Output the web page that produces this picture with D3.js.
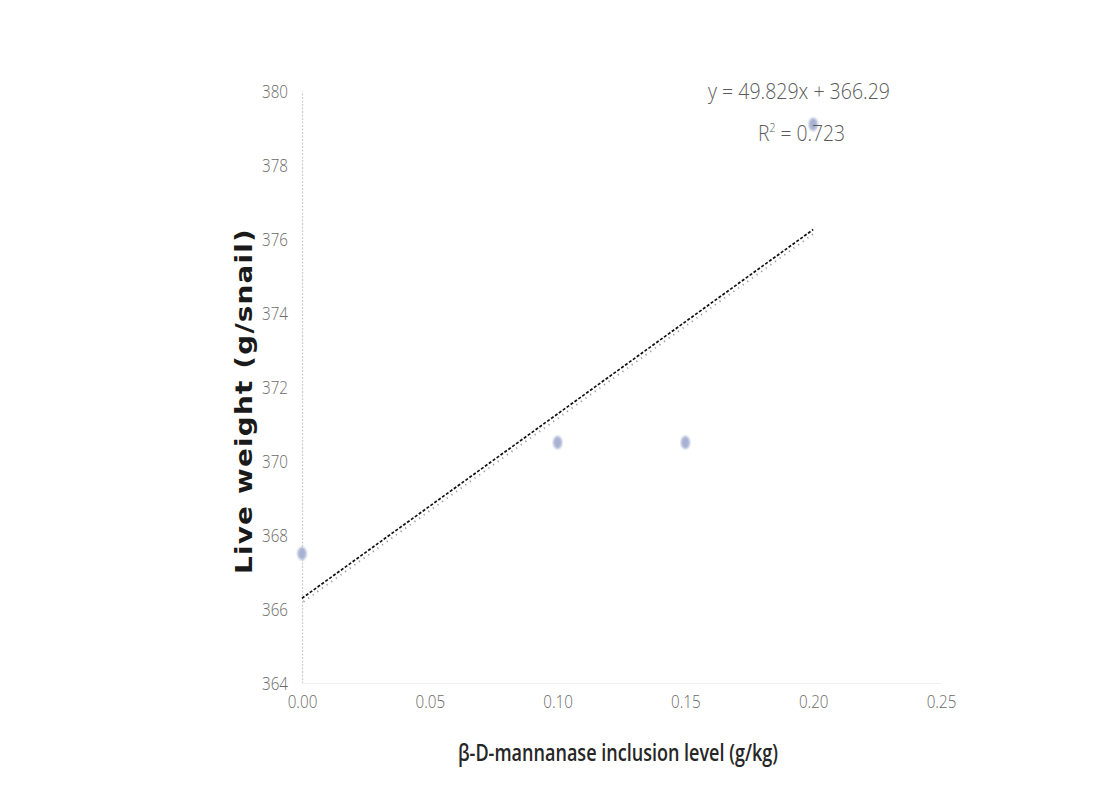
<!DOCTYPE html>
<html>
<head>
<meta charset="utf-8">
<script src="https://cdn.jsdelivr.net/npm/d3@7"></script>
<style>
  html, body { margin: 0; padding: 0; background: #fff; }
  svg { display: block; }
</style>
</head>
<body>
<div id="chart"></div>
<script>
// Inclusion levels of β-D-mannanase (g/kg) and mean live weight (g/snail)
const inclusionLevels = [0.00, 0.10, 0.15, 0.20];
const liveWeights = [367.5, 370.5, 370.5, 379.1];

// Axis ticks
const xTicks = [0.00, 0.05, 0.10, 0.15, 0.20, 0.25];
const yTicks = [364, 366, 368, 370, 372, 374, 376, 378, 380];

// Linear trendline
const trendSlope = 49.829;
const trendIntercept = 366.29;
const trendRange = [0.00, 0.20];
const equationText = "y = 49.829x + 366.29";
const rSquaredValue = "0.723";

const W = 1114, H = 798;
const plot = { left: 302, right: 941, top: 91, bottom: 683 };

const svg = d3.select("#chart").append("svg")
  .attr("width", W).attr("height", H);

svg.append("rect").attr("width", W).attr("height", H).attr("fill", "#fff");

const x = d3.scaleLinear().domain([0, 0.25]).range([plot.left, plot.right]);
const y = d3.scaleLinear().domain([364, 380]).range([plot.bottom, plot.top]);

const defs = svg.append("defs");
defs.append("filter").attr("id", "soft")
  .append("feGaussianBlur").attr("stdDeviation", 1.1);

const tickFont = "'Open Sans', sans-serif";
const narrow = 0.8;

// Y axis: faint dotted spine, labels only
const yAxis = d3.axisLeft(y).tickValues(yTicks).tickSize(0)
  .tickFormat(d3.format("d"));
const gy = svg.append("g").attr("transform", `translate(${plot.left},0)`).call(yAxis);
gy.select(".domain").attr("stroke", "#c9ccd3").attr("stroke-width", 1.2)
  .attr("stroke-dasharray", "2,1.5");
gy.selectAll("text").attr("font-family", tickFont).attr("font-weight", 300)
  .attr("font-size", 19).attr("fill", "#6a6a6a")
  .attr("transform", `scale(${narrow},1)`)
  .attr("x", -14 / narrow);

// X axis: very faint baseline, labels only
const xAxis = d3.axisBottom(x).tickValues(xTicks).tickSize(0).tickPadding(12)
  .tickFormat(d3.format(".2f"));
const gx = svg.append("g").attr("transform", `translate(0,${plot.bottom})`).call(xAxis);
gx.select(".domain").attr("stroke", "#eef0f3").attr("stroke-width", 1);
gx.selectAll("text").attr("font-family", tickFont).attr("font-weight", 300)
  .attr("font-size", 19).attr("fill", "#6a6a6a")
  .attr("transform", `scale(${narrow},1)`);

// Data points
svg.append("g").selectAll("ellipse")
  .data(inclusionLevels.map((d, i) => ({ x: d, y: liveWeights[i] })))
  .join("ellipse")
  .attr("cx", d => x(d.x)).attr("cy", d => y(d.y))
  .attr("rx", 4.5).attr("ry", 6.5)
  .attr("fill", "#a7b2d2")
  .attr("filter", "url(#soft)");

// Trendline with its faint grey shadow
const trendPts = trendRange.map(v => [x(v), y(trendIntercept + trendSlope * v)]);
const line = d3.line();
svg.append("path").attr("d", line(trendPts))
  .attr("transform", "translate(1.5,3.5)")
  .attr("fill", "none").attr("stroke", "#9a9a9a").attr("stroke-width", 1.8)
  .attr("stroke-dasharray", "1.2,4.5");
svg.append("path").attr("d", line(trendPts))
  .attr("fill", "none").attr("stroke", "#111").attr("stroke-width", 1.7)
  .attr("stroke-dasharray", "3,1.8");

// Equation labels
const eq = svg.append("g").attr("font-family", tickFont).attr("font-weight", 300)
  .attr("fill", "#5a5a5a");
eq.append("text").attr("x", 708).attr("y", 99).attr("font-size", 22)
  .attr("textLength", 182).attr("lengthAdjust", "spacingAndGlyphs")
  .text(equationText);
const r2 = eq.append("text").attr("x", 758).attr("y", 141).attr("font-size", 22)
  .attr("textLength", 87).attr("lengthAdjust", "spacingAndGlyphs");
r2.append("tspan").text("R");
r2.append("tspan").attr("font-size", 12).attr("dy", -9).text("2");
r2.append("tspan").attr("dy", 9).text(" = " + rSquaredValue);

// Axis titles
svg.append("text")
  .attr("transform", `translate(252,401) rotate(-90)`)
  .attr("text-anchor", "middle")
  .attr("font-family", "'DejaVu Sans', Verdana, sans-serif")
  .attr("font-weight", "bold").attr("font-size", 23).attr("fill", "#1a1a1a")
  .attr("letter-spacing", 1)
  .attr("textLength", 346).attr("lengthAdjust", "spacingAndGlyphs")
  .text("Live weight (g/snail)");

svg.append("text")
  .attr("x", 618).attr("y", 761)
  .attr("text-anchor", "middle")
  .attr("font-family", "'Open Sans', sans-serif")
  .attr("font-weight", 600).attr("font-size", 24).attr("fill", "#262626")
  .attr("textLength", 320).attr("lengthAdjust", "spacingAndGlyphs")
  .text("β-D-mannanase inclusion level (g/kg)");
</script>
</body>
</html>
